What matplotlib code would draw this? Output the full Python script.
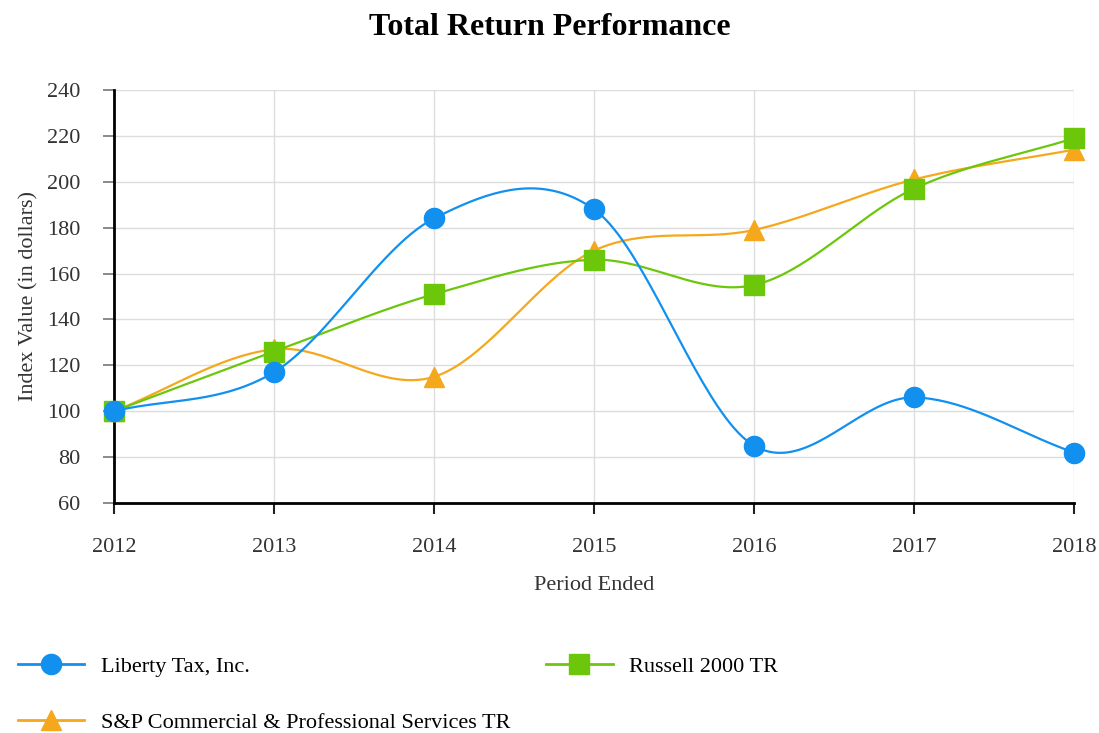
import numpy as np
import matplotlib.pyplot as plt
from matplotlib.lines import Line2D

years = [2012, 2013, 2014, 2015, 2016, 2017, 2018]
liberty = [100, 117, 184, 188, 85, 106, 82]
russell = [100, 126, 151, 166, 155, 197, 219]
sp_services = [100, 127, 115, 170, 179, 201, 214]

series_names = ['Liberty Tax, Inc.', 'Russell 2000 TR',
                'S&P Commercial & Professional Services TR']
y_ticks = list(range(60, 241, 20))

plt.rcParams['font.family'] = ['Liberation Serif', 'DejaVu Serif']


def smooth(x, y, n=40):
    # Catmull-Rom curve through the points, only for drawing the line
    x = np.asarray(x, float)
    y = np.asarray(y, float)
    m = np.gradient(y, x)
    xs, ys = [], []
    for i in range(len(x) - 1):
        h = x[i + 1] - x[i]
        t = np.linspace(0, 1, n, endpoint=(i == len(x) - 2))
        h00 = 2 * t**3 - 3 * t**2 + 1
        h10 = t**3 - 2 * t**2 + t
        h01 = -2 * t**3 + 3 * t**2
        h11 = t**3 - t**2
        xs.append(x[i] + t * h)
        ys.append(h00 * y[i] + h10 * h * m[i] + h01 * y[i + 1] + h11 * h * m[i + 1])
    return np.concatenate(xs), np.concatenate(ys)


fig = plt.figure(figsize=(10.99, 7.33), dpi=100)
ax = fig.add_axes([0.1037, 0.3138, 0.8736, 0.5634])

styles = [
    (sp_services, '#F5A81C', '^', 14.5),
    (russell, '#6CC70B', 's', 14),
    (liberty, '#1190F0', 'o', 14.5),
]
for vals, color, marker, ms in styles:
    sx, sy = smooth(years, vals)
    ax.plot(sx, sy, color=color, lw=1.6, zorder=3, clip_on=False)
    ax.plot(years, vals, ls='none', marker=marker, ms=ms, color=color,
            zorder=6, clip_on=False)

ax.set_xlim(2012, 2018)
ax.set_ylim(60, 240)
ax.set_xticks(years)
ax.set_yticks(y_ticks)
ax.grid(True, color='#DDDDDD', lw=1)
ax.set_axisbelow(True)
for s in ['top', 'right']:
    ax.spines[s].set_visible(False)
for s in ['left', 'bottom']:
    ax.spines[s].set_linewidth(2)
    ax.spines[s].set_color('black')
    ax.spines[s].set_zorder(5)
ax.tick_params(axis='x', length=8, width=1.5, color='#222222', labelsize=16, pad=17)
ax.tick_params(axis='y', length=8, width=1.2, color='#777777', labelsize=16, pad=16)
for lbl in ax.get_yticklabels() + ax.get_xticklabels():
    lbl.set_color('#333333')

ax.set_xlabel('Period Ended', fontsize=16, color='#333333', labelpad=14)
ax.set_ylabel('Index Value (in dollars)', fontsize=16, color='#333333', labelpad=6)
fig.suptitle('Total Return Performance', fontsize=23, fontweight='bold', y=0.982)

handles = [
    Line2D([], [], color='#1190F0', lw=2, marker='o', ms=14.5),
    Line2D([], [], color='#F5A81C', lw=2, marker='^', ms=14.5),
    Line2D([], [], color='#6CC70B', lw=2, marker='s', ms=14),
]
labels = [series_names[0], series_names[2], series_names[1]]
fig.legend(handles, labels, loc='upper left', bbox_to_anchor=(0.008, 0.117),
           ncol=2, frameon=False, fontsize=16, handlelength=3.0,
           columnspacing=1.6, labelspacing=1.6, handletextpad=0.75,
           borderaxespad=0)

fig.savefig('out.png', dpi=100)
